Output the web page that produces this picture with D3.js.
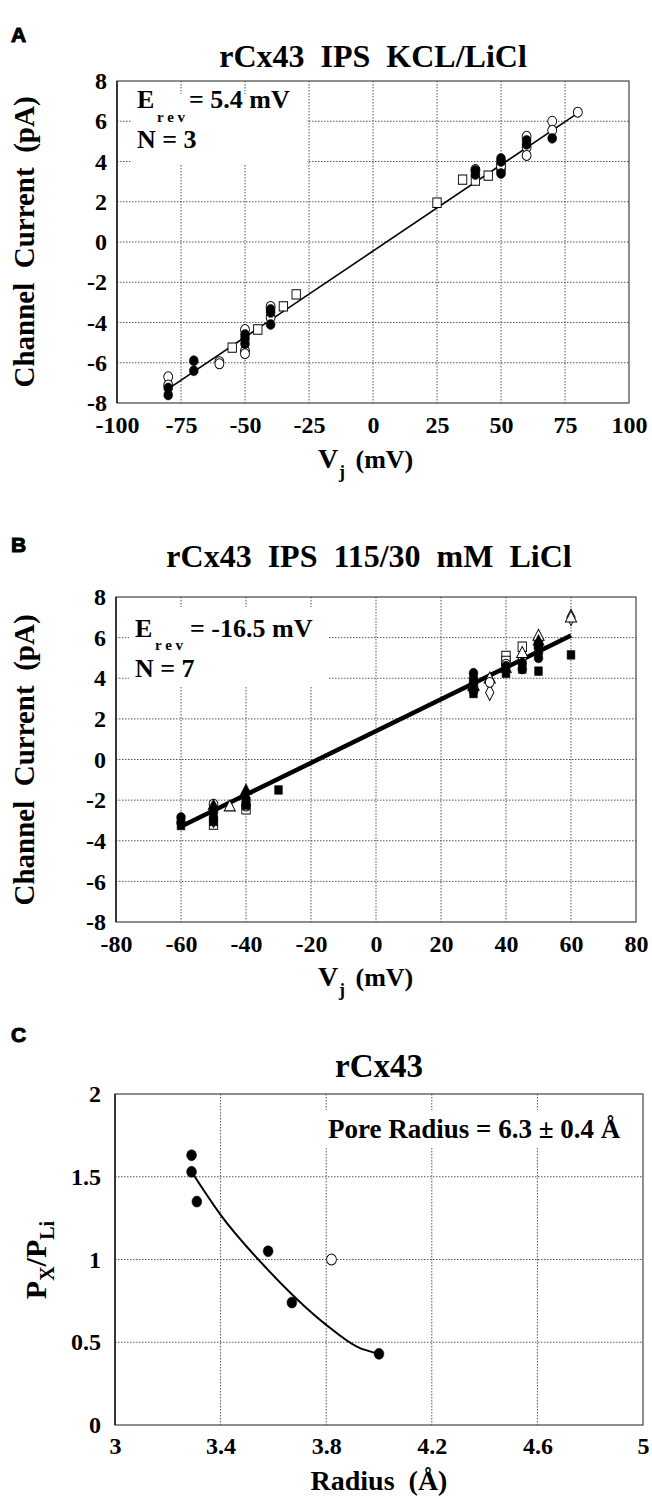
<html>
<head>
<script src="https://d3js.org/d3.v7.min.js"></script>
<style>
  body { margin: 0; background: #fff; }
  .grid { stroke: #555; stroke-width: 1; stroke-dasharray: 1.5,1.5; fill: none; }
  .frame { fill: none; stroke: #444; stroke-width: 1.2; }
  text { font-family: "Liberation Serif", "Times New Roman", serif; font-weight: bold; fill: #000; white-space: pre; }
  .letter { font-family: "Liberation Sans", Arial, sans-serif; font-size: 21px; stroke: #000; stroke-width: 1; }
</style>
</head>
<body>
<svg id="fig" width="652" height="1499"></svg>
<script>
// ---- panel A : rCx43 IPS KCL/LiCl ----
const aXTicks = [-100, -75, -50, -25, 0, 25, 50, 75, 100];
const aYTicks = [-8, -6, -4, -2, 0, 2, 4, 6, 8];
const aFilled = [[-80,-7.25],[-80,-7.6],[-70,-5.9],[-70,-6.4],[-50,-4.6],[-50,-4.8],[-50,-5.05],
  [-40,-3.35],[-40,-3.5],[-40,-4.1],[40,3.55],[40,3.35],[50,4.15],[50,4.0],[50,3.4],[60,5.05],[60,4.85],[70,5.15]];
const aOpenCircle = [[-80,-6.7],[-80,-7.1],[-60,-5.95],[-60,-6.05],[-50,-4.35],[-50,-5.4],[-50,-5.55],
  [-40,-3.2],[-40,-3.75],[40,3.6],[50,3.75],[60,5.25],[60,4.7],[60,4.3],[70,6.0],[70,5.55],[80,6.45]];
const aOpenSquare = [[-55,-5.25],[-45,-4.35],[-35,-3.2],[-30,-2.6],[25,1.95],[35,3.1],[40,3.05],[45,3.3],[50,3.7]];
const aFit = [[-80,-7.3],[80,6.4]];

// ---- panel B : rCx43 IPS 115/30 mM LiCl ----
const bXTicks = [-80, -60, -40, -20, 0, 20, 40, 60, 80];
const bYTicks = [-8, -6, -4, -2, 0, 2, 4, 6, 8];
const bFilledCircle = [[-60,-2.85],[-60,-3.1],[-50,-2.6],[-50,-2.85],[-40,-1.95],[-40,-2.15],[30,4.25],[30,4.0],
  [30,3.8],[40,4.6],[45,4.75],[45,4.45],[50,5.5],[50,5.25],[50,5.0]];
const bOpenCircle = [[-50,-2.2],[-40,-2.3],[35,3.8],[40,4.7]];
const bFilledSquare = [[-60,-3.25],[-50,-3.05],[-40,-2.25],[-30,-1.5],[30,3.25],[40,4.25],[45,4.45],[50,4.35],[60,5.15]];
const bOpenSquare = [[-50,-3.2],[-40,-2.45],[30,3.5],[40,5.1],[40,4.85],[45,5.55],[50,5.7]];
const bFilledTriangle = [[-50,-2.3],[-40,-1.55],[30,3.55],[40,4.45],[50,5.8]];
const bOpenTriangle = [[-45,-2.35],[30,3.6],[35,3.95],[45,5.2],[50,6.05],[60,6.95]];
const bOpenDiamond = [[-50,-2.95],[35,3.3],[45,4.95],[60,7.0]];
const bFit = [[-60,-3.3],[60,6.1]];

// ---- panel C : rCx43 permeability vs radius ----
const cXTicks = [3, 3.4, 3.8, 4.2, 4.6, 5];
const cYTicks = [0, 0.5, 1, 1.5, 2];
const cFilled = [[3.29,1.63],[3.29,1.53],[3.31,1.35],[3.58,1.05],[3.67,0.74],[4.0,0.43]];
const cOpen = [[3.82,1.0]];
const cCurve = [[3.29,1.53],[3.4,1.27],[3.575,0.945],[3.8,0.605],[3.92,0.47],[4.0,0.43]];

const svg = d3.select("#fig");

function panel(p) {
  const g = svg.append("g");
  const x = d3.scaleLinear().domain(p.xDomain).range([p.left, p.right]);
  const y = d3.scaleLinear().domain(p.yDomain).range([p.bottom, p.top]);

  // grid
  g.append("g").selectAll("line").data(p.xTicks.slice(1, -1)).join("line")
    .attr("class", "grid").attr("x1", d => x(d)).attr("x2", d => x(d))
    .attr("y1", p.top).attr("y2", p.bottom);
  g.append("g").selectAll("line").data(p.yTicks.slice(1, -1)).join("line")
    .attr("class", "grid").attr("y1", d => y(d)).attr("y2", d => y(d))
    .attr("x1", p.left).attr("x2", p.right);

  // white box behind the annotation
  if (p.box) g.append("rect").attr("x", p.box[0]).attr("y", p.box[1])
    .attr("width", p.box[2]).attr("height", p.box[3]).attr("fill", "#fff");

  g.append("rect").attr("class", "frame")
    .attr("x", p.left).attr("y", p.top)
    .attr("width", p.right - p.left).attr("height", p.bottom - p.top);
  g.append("line").attr("x1", p.left).attr("x2", p.left).attr("y1", p.top).attr("y2", p.bottom)
    .attr("stroke", "#222").attr("stroke-width", 1.6);

  // axes (labels only)
  const fmt = d => String(d);
  const xa = g.append("g").attr("transform", `translate(0,${p.bottom})`)
    .call(d3.axisBottom(x).tickValues(p.xTicks).tickSize(0).tickPadding(p.xPad).tickFormat(fmt));
  const ya = g.append("g").attr("transform", `translate(${p.left},0)`)
    .call(d3.axisLeft(y).tickValues(p.yTicks).tickSize(0).tickPadding(p.yPad).tickFormat(fmt));
  [xa, ya].forEach(a => {
    a.select(".domain").remove();
    a.selectAll("text").style("font-family", "'Liberation Serif', serif").style("font-weight", "bold")
      .style("font-size", p.tickSize + "px").attr("fill", "#000");
  });
  return {g, x, y};
}

function marks(P, data, shape, filled, size) {
  const sym = d3.symbol().type(shape).size(size);
  P.g.append("g").selectAll("path").data(data).join("path")
    .attr("d", sym)
    .attr("transform", d => `translate(${P.x(d[0])},${P.y(d[1])}) scale(1,1.12)`)
    .attr("fill", filled ? "#000" : "#fff")
    .attr("stroke", "#000").attr("stroke-width", filled ? 0.5 : 0.9);
}

function label(x, y, txt, size, anchor, cls) {
  return svg.append("text").attr("x", x).attr("y", y).attr("font-size", size)
    .attr("text-anchor", anchor || "start").attr("class", cls || null).text(txt);
}

// ================= A =================
const A = panel({xDomain: [-100, 100], yDomain: [-8, 8], left: 117, right: 629, top: 81, bottom: 403,
  xTicks: aXTicks, yTicks: aYTicks, xPad: 13, yPad: 10, tickSize: 24, box: [131, 94, 176, 70]});
A.g.append("path").datum(aFit).attr("fill", "none").attr("stroke", "#000").attr("stroke-width", 1.6)
  .attr("d", d3.line().x(d => A.x(d[0])).y(d => A.y(d[1])));
marks(A, aOpenSquare, d3.symbolSquare, false, 70);
marks(A, aOpenCircle, d3.symbolCircle, false, 62);
marks(A, aFilled, d3.symbolCircle, true, 62);

label(11, 42, "A", 21, "start", "letter");
label(373, 67, "rCx43  IPS  KCL/LiCl", 32, "middle");
label(137, 108, "E", 26);
label(157, 122, "r e v", 15);
label(189, 108, "= 5.4 mV", 26);
label(137, 148, "N = 3", 26);
label(318, 468, "V", 28);
label(339, 478, "j", 18);
label(349, 468, " (mV)", 26);
svg.append("text").attr("transform", "translate(34,242) rotate(-90)").attr("text-anchor", "middle")
  .attr("font-size", 29).text("Channel  Current  (pA)");

// ================= B =================
const B = panel({xDomain: [-80, 80], yDomain: [-8, 8], left: 116, right: 636, top: 597, bottom: 922,
  xTicks: bXTicks, yTicks: bYTicks, xPad: 13, yPad: 10, tickSize: 24, box: [129, 607, 200, 80]});
B.g.append("path").datum(bFit).attr("fill", "none").attr("stroke", "#000").attr("stroke-width", 4.5)
  .attr("d", d3.line().x(d => B.x(d[0])).y(d => B.y(d[1])));
marks(B, bOpenSquare, d3.symbolSquare, false, 70);
marks(B, bOpenDiamond, d3.symbolDiamond, false, 60);
marks(B, bOpenTriangle, d3.symbolTriangle, false, 55);
marks(B, bOpenCircle, d3.symbolCircle, false, 60);
marks(B, bFilledSquare, d3.symbolSquare, true, 60);
marks(B, bFilledTriangle, d3.symbolTriangle, true, 55);
marks(B, bFilledCircle, d3.symbolCircle, true, 60);

label(11, 552, "B", 21, "start", "letter");
label(369, 567, "rCx43  IPS  115/30  mM  LiCl", 32, "middle");
label(135, 637, "E", 26);
label(155, 650, "r e v", 15);
label(190, 637, "= -16.5 mV", 26);
label(135, 677, "N = 7", 26);
label(318, 986, "V", 28);
label(339, 996, "j", 18);
label(349, 986, " (mV)", 26);
svg.append("text").attr("transform", "translate(34,760) rotate(-90)").attr("text-anchor", "middle")
  .attr("font-size", 29).text("Channel  Current  (pA)");

// ================= C =================
const C = panel({xDomain: [3, 5], yDomain: [0, 2], left: 115, right: 643, top: 1094, bottom: 1425,
  xTicks: cXTicks, yTicks: cYTicks, xPad: 12, yPad: 14, tickSize: 24, box: [322, 1110, 310, 38]});
C.g.append("path").datum(cCurve).attr("fill", "none").attr("stroke", "#000").attr("stroke-width", 2)
  .attr("d", d3.line().curve(d3.curveMonotoneX).x(d => C.x(d[0])).y(d => C.y(d[1])));
marks(C, cOpen, d3.symbolCircle, false, 75);
marks(C, cFilled, d3.symbolCircle, true, 75);

label(11, 1042, "C", 21, "start", "letter");
label(379, 1077, "rCx43", 33, "middle");
label(328, 1138, "Pore Radius = 6.3 ± 0.4 Å", 27);
label(379, 1490, "Radius  (Å)", 28, "middle");
const py = svg.append("text").attr("transform", "translate(46,1260) rotate(-90)").attr("text-anchor", "middle")
  .attr("font-size", 30);
py.append("tspan").text("P");
py.append("tspan").attr("font-size", 20).attr("dy", 8).text("X");
py.append("tspan").attr("dy", -8).text("/P");
py.append("tspan").attr("font-size", 20).attr("dy", 8).text("Li");
</script>
</body>
</html>
